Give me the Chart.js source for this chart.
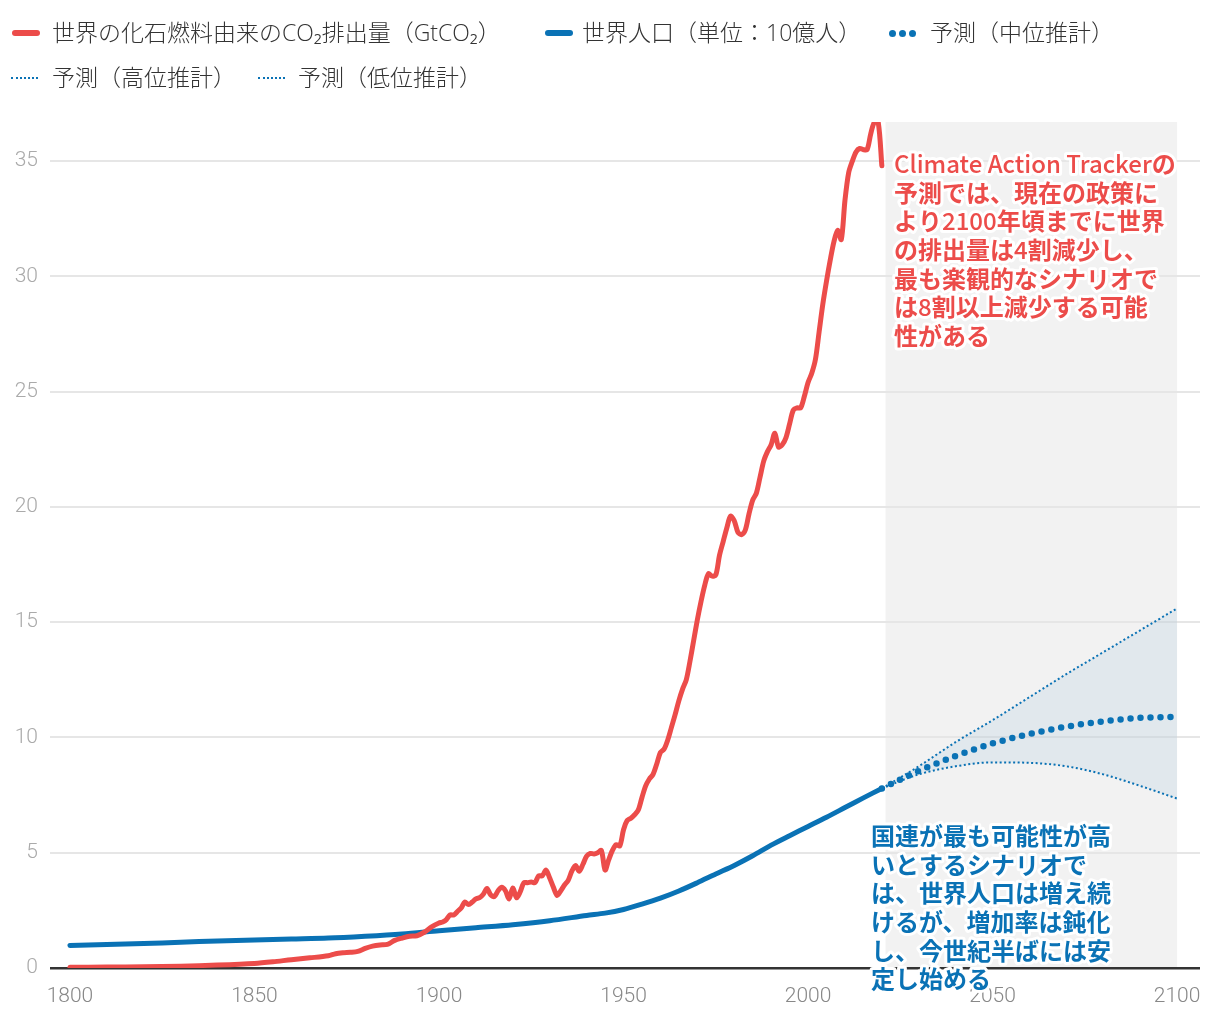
<!DOCTYPE html>
<html><head><meta charset="utf-8">
<script src="https://cdn.jsdelivr.net/npm/chart.js@4.4.1/dist/chart.umd.min.js"></script>
<style>
html,body{margin:0;padding:0;background:#fff;}
#wrap{position:relative;width:1220px;height:1020px;overflow:hidden;}
#c{position:absolute;left:0;top:0;}
.lt{position:absolute;font-family:"Noto Sans CJK JP","Noto Sans",sans-serif;font-size:23px;font-weight:300;color:#333;line-height:23px;white-space:nowrap;}
.lt .la{font-family:"Open Sans","Noto Sans CJK JP",sans-serif;font-weight:300;}
.sw{position:absolute;}
.solid{height:6px;width:28px;border-radius:3px;}
.thin{width:27px;height:0;border-top:2px dotted #0a72b5;}
.dot{width:7px;height:7px;border-radius:50%;background:#0a72b5;position:absolute;}
</style></head>
<body>
<div id="wrap">
<canvas id="c" width="1220" height="1020"></canvas>
<div class="sw solid" style="left:12px;top:30px;background:#ec4c4a"></div>
<div class="lt" style="left:52px;top:20px">世界の化石燃料由来の<span class="la">CO</span>₂排出量（<span class="la">GtCO</span>₂）</div>
<div class="sw solid" style="left:545px;top:30px;background:#0a72b5"></div>
<div class="lt" style="left:582px;top:20px">世界人口（単位：<span class="la">10</span>億人）</div>
<div class="dot" style="left:889px;top:30px"></div>
<div class="dot" style="left:899px;top:30px"></div>
<div class="dot" style="left:909px;top:30px"></div>
<div class="lt" style="left:930px;top:20px">予測（中位推計）</div>
<div class="sw thin" style="left:11px;top:77px"></div>
<div class="lt" style="left:52px;top:65px">予測（高位推計）</div>
<div class="sw thin" style="left:258px;top:77px"></div>
<div class="lt" style="left:298px;top:65px">予測（低位推計）</div>
</div>
<script>
// ---- data ----
const co2Years = [1800,1810,1820,1830,1840,1850,1855,1860,1865,1870,1872,1874,1876,1878,1880,1882,1884,1886,1888,1890,1892,1894,1896,1898,
1900,1901,1902,1903,1904,1905,1906,1907,1908,1909,1910,1911,1912,1913,1914,1915,1916,1917,1918,1919,
1920,1921,1922,1923,1924,1925,1926,1927,1928,1929,1930,1931,1932,1933,1934,1935,1936,1937,1938,1939,
1940,1941,1942,1943,1944,1945,1946,1947,1948,1949,1950,1951,1952,1953,1954,1955,1956,1957,1958,1959,
1960,1961,1962,1963,1964,1965,1966,1967,1968,1969,1970,1971,1972,1973,1974,1975,1976,1977,1978,1979,
1980,1981,1982,1983,1984,1985,1986,1987,1988,1989,1990,1991,1992,1993,1994,1995,1996,1997,1998,1999,
2000,2001,2002,2003,2004,2005,2006,2007,2008,2009,2010,2011,2012,2013,2014,2015,2016,2017,2018,2019,2020];
const co2Values = [0.03,0.04,0.05,0.08,0.13,0.20,0.27,0.36,0.44,0.53,0.62,0.66,0.68,0.72,0.85,0.95,1.0,1.02,1.2,1.3,1.38,1.40,1.55,1.78,
1.95,2.0,2.1,2.3,2.3,2.45,2.6,2.86,2.75,2.86,3.0,3.05,3.2,3.45,3.17,3.1,3.35,3.5,3.35,3.0,
3.47,3.05,3.3,3.7,3.7,3.73,3.7,4.0,4.0,4.25,3.9,3.5,3.15,3.35,3.6,3.8,4.2,4.45,4.2,4.5,
4.85,4.97,4.95,5.0,5.1,4.25,4.7,5.1,5.35,5.3,6.0,6.4,6.5,6.65,6.85,7.4,7.9,8.2,8.4,8.85,
9.35,9.5,9.9,10.45,11.0,11.6,12.1,12.5,13.3,14.2,15.1,15.9,16.6,17.1,17.0,17.05,17.9,18.5,19.1,19.6,
19.4,18.9,18.8,19.0,19.7,20.3,20.6,21.3,22.0,22.4,22.7,23.2,22.6,22.7,23.0,23.6,24.2,24.3,24.3,24.8,
25.4,25.8,26.4,27.6,28.8,29.8,30.7,31.5,32.0,31.6,33.3,34.5,35.0,35.4,35.55,35.5,35.5,36.2,36.7,36.7,34.8];

const popYears  = [1800,1810,1820,1830,1840,1850,1860,1870,1880,1890,1900,1910,1920,1930,1940,1945,1950,1955,1960,1965,1970,1975,1980,1985,1990,1995,2000,2005,2010,2015,2020];
const popValues = [0.98,1.02,1.06,1.12,1.17,1.22,1.26,1.30,1.38,1.48,1.62,1.75,1.88,2.05,2.28,2.38,2.54,2.77,3.03,3.34,3.70,4.08,4.45,4.87,5.33,5.74,6.14,6.54,6.96,7.38,7.79];

const projYears = [2020,2030,2040,2050,2060,2070,2080,2090,2100];
const projMid   = [7.79,8.55,9.2,9.74,10.15,10.47,10.7,10.85,10.9];
const projHigh  = [7.79,8.75,9.8,10.75,11.75,12.75,13.7,14.65,15.6];
const projLow   = [7.79,8.4,8.75,8.92,8.9,8.75,8.4,7.9,7.35];

const xTicks = [1800,1850,1900,1950,2000,2050,2100];
const yTicks = [0,5,10,15,20,25,30,35];
const projectionSpan = [2021,2100];

const redNote = ["Climate Action Trackerの","予測では、現在の政策に","より2100年頃までに世界","の排出量は4割減少し、","最も楽観的なシナリオで","は8割以上減少する可能","性がある"];
const blueNote = ["国連が最も可能性が高","いとするシナリオで","は、世界人口は増え続","けるが、増加率は鈍化","し、今世紀半ばには安","定し始める"];

const RED = '#ec4c4a', BLUE = '#0a72b5';
const pts = (xs, ys) => xs.map((x,i)=>({x:x, y:ys[i]}));

const bgPlugin = {
  id:'bgRegion',
  beforeDraw(chart){
    const {ctx, chartArea, scales} = chart;
    const x1 = scales.x.getPixelForValue(projectionSpan[0]);
    const x2 = scales.x.getPixelForValue(projectionSpan[1]);
    const yb = scales.y.getPixelForValue(0);
    ctx.save();
    ctx.fillStyle = '#f2f2f2';
    ctx.fillRect(x1, chartArea.top, x2-x1, yb-chartArea.top);
    ctx.restore();
  }
};
const FAM = '"Noto Sans CJK JP", "Noto Sans", sans-serif';
const notePlugin = {
  id:'notes',
  afterDraw(chart){
    const ctx = chart.ctx;
    const runsOf = t => t.match(/[\x20-\x7e]+|[^\x20-\x7e]+/g);
    const fontFor = r => /^[\x20-\x7e]+$/.test(r) ? '500 24px ' + FAM : 'bold 24px ' + FAM;
    const draw = (lines, x0, y0, color) => {
      ctx.save();
      ctx.textBaseline = 'middle';
      ctx.textAlign = 'left';
      ctx.lineJoin = 'round';
      // outline pass
      lines.forEach((t,i)=>{
        const y = y0 + i*28.6; let x = x0;
        runsOf(t).forEach(r=>{
          ctx.font = fontFor(r);
          ctx.strokeStyle = '#fff'; ctx.lineWidth = 6;
          ctx.strokeText(r, x, y);
          x += ctx.measureText(r).width;
        });
      });
      // fill pass
      lines.forEach((t,i)=>{
        const y = y0 + i*28.6; let x = x0;
        runsOf(t).forEach(r=>{
          ctx.font = fontFor(r);
          ctx.fillStyle = color;
          ctx.fillText(r, x, y);
          x += ctx.measureText(r).width;
        });
      });
      ctx.restore();
    };
    draw(redNote, 894, 164, RED);
    draw(blueNote, 871, 836, BLUE);
  }
};

const tickFont = {family:'Roboto, "Noto Sans CJK JP", sans-serif', size:21, weight:'300'};

new Chart(document.getElementById('c'), {
  type:'line',
  data:{
    datasets:[
      {label:'co2', data:pts(co2Years,co2Values), borderColor:RED, borderWidth:5, pointRadius:0, tension:0.3, borderCapStyle:'round', borderJoinStyle:'round', fill:false},
      {label:'pop', data:pts(popYears,popValues), borderColor:BLUE, borderWidth:5, pointRadius:0, tension:0.3, borderCapStyle:'round', fill:false},
      {label:'mid', data:pts(projYears,projMid), borderColor:BLUE, borderWidth:6.5, borderDash:[0,10], borderCapStyle:'round', pointRadius:0, cubicInterpolationMode:'monotone', fill:false},
      {label:'high', data:pts(projYears,projHigh), borderColor:BLUE, borderWidth:2, borderDash:[2,2.5], pointRadius:0, cubicInterpolationMode:'monotone', fill:{target:4}, backgroundColor:'rgba(10,114,181,0.075)'},
      {label:'low', data:pts(projYears,projLow), borderColor:BLUE, borderWidth:2, borderDash:[2,2.5], pointRadius:0, cubicInterpolationMode:'monotone', fill:false}
    ]
  },
  options:{
    responsive:false, animation:false, devicePixelRatio:1,
    layout:{padding:{top:122, right:20, left:0, bottom:0}},
    plugins:{legend:{display:false}, tooltip:{enabled:false}},
    scales:{
      x:{type:'linear', min:1794.6, max:2106.2,
         afterBuildTicks:s=>{s.ticks = xTicks.map(v=>({value:v}));},
         afterFit:s=>{s.height = 52;},
         grid:{display:false, drawTicks:false},
         border:{display:false},
         ticks:{padding:16, color:'#888', font:tickFont, maxRotation:0, autoSkip:false, callback:v=>String(v)}},
      y:{type:'linear', min:0, max:36.7,
         afterBuildTicks:s=>{s.ticks = yTicks.map(v=>({value:v}));},
         afterFit:s=>{s.width = 50;},
         grid:{drawTicks:false, color:c=>c.tick.value===0?'#333':'#e6e6e6', lineWidth:c=>c.tick.value===0?2.5:2},
         border:{display:false},
         ticks:{padding:12, color:'#aaa', font:tickFont, callback:v=>String(v)}}
    }
  },
  plugins:[bgPlugin, notePlugin]
});
</script>
</body></html>
